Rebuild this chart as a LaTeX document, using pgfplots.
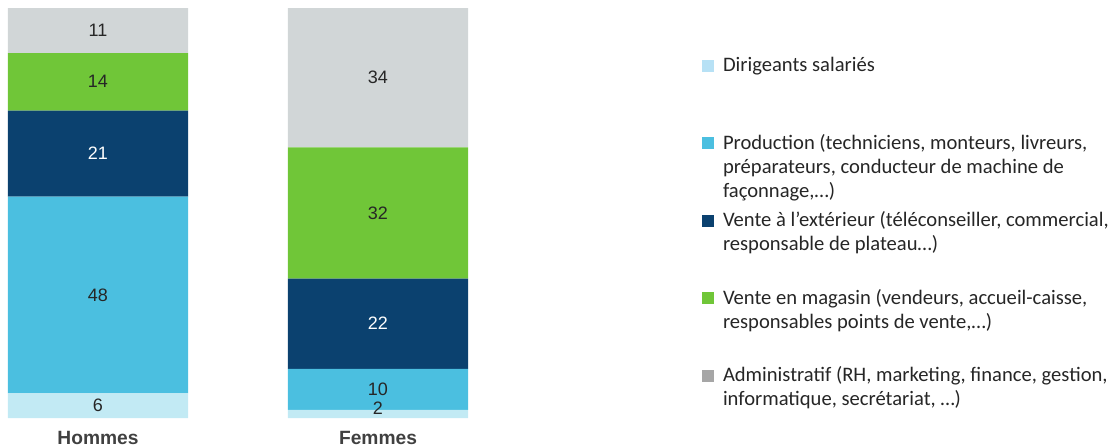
\documentclass[border=0pt]{standalone}
\usepackage{pgfplots}
\pgfplotsset{compat=1.18}
\usepackage{fontspec}
\setmainfont{Liberation Sans}
\newfontfamily\legendfont{Carlito}
\definecolor{cDir}{HTML}{C2EAF4}
\definecolor{cDirL}{HTML}{B7E1F5}
\definecolor{cProd}{HTML}{4BBFE0}
\definecolor{cExt}{HTML}{0B416F}
\definecolor{cMag}{HTML}{70C638}
\definecolor{cAdm}{HTML}{D1D6D7}
\definecolor{cAdmL}{HTML}{A6A6A6}
\definecolor{txt}{HTML}{262626}
\definecolor{lbl}{HTML}{404040}
\newcommand{\legtxt}[1]{\parbox[t]{215pt}{\raggedright\strut #1}}
\pgfplotsset{sqleg/.style={legend image code/.code={\fill[##1] (0pt,0pt) rectangle (6pt,6pt);}},
  geom/.style={at={(0pt,14.5pt)}, anchor=south west,
    scale only axis, width=238pt, height=205pt,
    xmin=-0.35, xmax=1.35, ymin=0, ymax=100}}
\begin{document}
\begin{tikzpicture}
\useasboundingbox (0,0) rectangle (558pt,223.5pt);
\begin{axis}[
 geom,
 ybar stacked, bar width=90pt,
 axis line style={draw=none}, major tick length=0pt,
 ytick=\empty, xtick={0,1}, xticklabels={Hommes,Femmes},
 xticklabel style={anchor=base, yshift=-13.25pt, font=\fontsize{9.6}{11}\selectfont\bfseries, text=lbl},
 legend cell align=left,
 legend style={at={(1.4748,0.8947)}, anchor=north west, draw=none, fill=none, inner sep=0pt, outer sep=0pt, row sep=0pt, column sep=2.5pt, font=\legendfont\fontsize{10.3}{12}\selectfont, text=txt, nodes={text height=8.4pt, text depth=26.35pt}, cells={anchor=base west, inner sep=0pt, text height=8.4pt, text depth=26.35pt}},
]
\addplot[fill=cDir, draw=none, legend image code/.code={\fill[cDirL] (0pt,0pt) rectangle (6pt,6pt);}] coordinates {(0,6) (1,2)};
\addlegendentry{\legtxt{Dirigeants salariés}}
\addplot[fill=cProd, draw=none, sqleg] coordinates {(0,48) (1,10)};
\addlegendentry{\legtxt{Production (techniciens, monteurs, livreurs,\\ préparateurs, conducteur de machine de\\ façonnage,…)}}
\addplot[fill=cExt, draw=none, sqleg] coordinates {(0,21) (1,22)};
\addlegendentry{\legtxt{Vente à l’extérieur (téléconseiller, commercial,\\ responsable de plateau…)}}
\addplot[fill=cMag, draw=none, sqleg] coordinates {(0,14) (1,32)};
\addlegendentry{\legtxt{Vente en magasin (vendeurs, accueil-caisse,\\ responsables points de vente,…)}}
\addplot[fill=cAdm, draw=none, legend image code/.code={\fill[cAdmL] (0pt,0pt) rectangle (6pt,6pt);}] coordinates {(0,11) (1,34)};
\addlegendentry{\legtxt{Administratif (RH, marketing, finance, gestion,\\ informatique, secrétariat, …)}}
\end{axis}
\begin{axis}[geom, hide axis,
 nodes near coords, point meta=explicit symbolic,
 nodes near coords style={anchor=center, font=\fontsize{9}{11}\selectfont, text=txt}]
\addplot[only marks, mark=none] table[x=x, y=y, meta=l]{
x y l
0 3 6
0 30 48
0 82 14
0 94.5 11
1 2.5 2
1 7 10
1 50 32
1 83 34
};
\addplot[only marks, mark=none, nodes near coords style={text=white}] table[x=x, y=y, meta=l]{
x y l
0 64.5 21
1 23 22
};
\end{axis}
\end{tikzpicture}
\end{document}
